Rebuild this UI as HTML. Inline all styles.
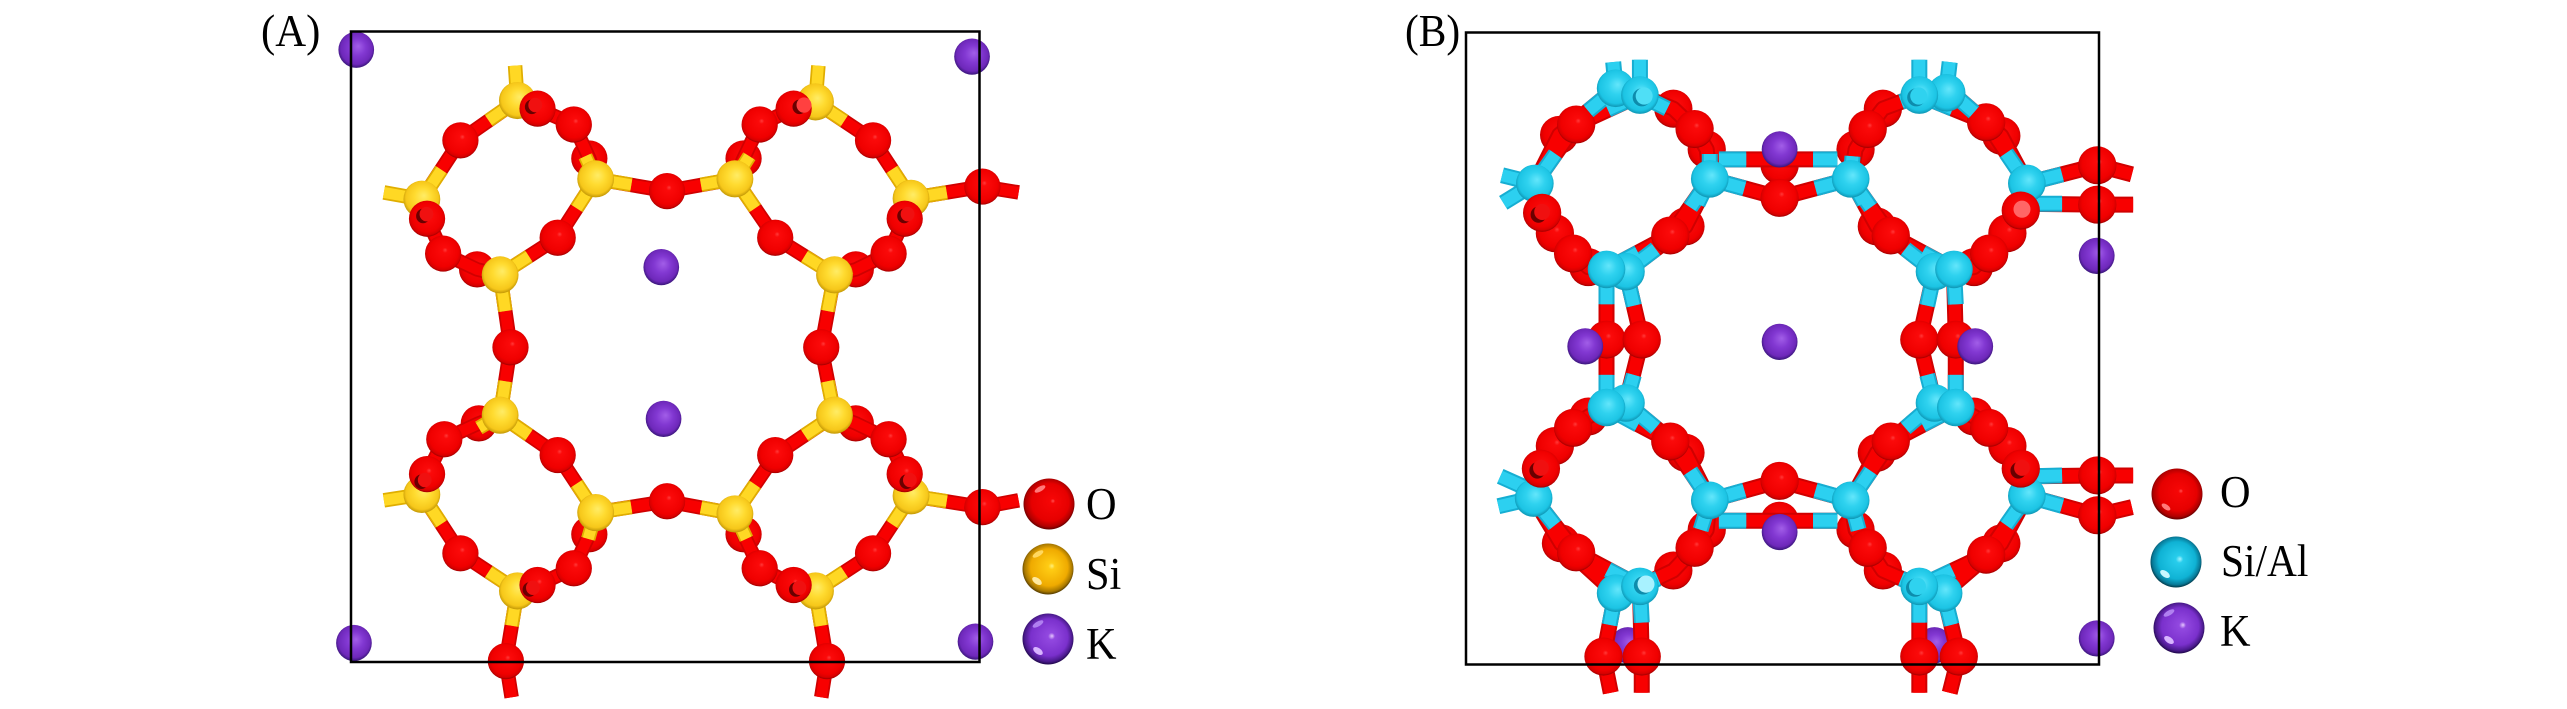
<!DOCTYPE html>
<html><head><meta charset="utf-8"><style>
html,body{margin:0;padding:0;background:#fff}
svg{display:block}
text{font-family:"Liberation Serif","Times New Roman",serif;fill:#000}
.b{fill:none;vector-effect:non-scaling-stroke;stroke-linejoin:round}
</style></head><body>
<svg xmlns="http://www.w3.org/2000/svg" width="2567" height="709" viewBox="0 0 2567 709">
<defs>
<radialGradient id="go" cx=".5" cy=".47" r=".52" fx=".56" fy=".4"><stop offset="0" stop-color="#ff3a3a"/><stop offset=".14" stop-color="#fb0a0a"/><stop offset=".78" stop-color="#f00000"/><stop offset=".93" stop-color="#d80000"/><stop offset="1" stop-color="#a80000"/></radialGradient>
<radialGradient id="gy" cx=".5" cy=".47" r=".52" fx=".56" fy=".4"><stop offset="0" stop-color="#ffec66"/><stop offset=".45" stop-color="#ffdb30"/><stop offset=".85" stop-color="#f6c71a"/><stop offset="1" stop-color="#c79c08"/></radialGradient>
<radialGradient id="gc" cx=".5" cy=".47" r=".52" fx=".56" fy=".4"><stop offset="0" stop-color="#64e6fb"/><stop offset=".45" stop-color="#2fd2ef"/><stop offset=".85" stop-color="#1cc4e4"/><stop offset="1" stop-color="#109ab8"/></radialGradient>
<radialGradient id="gk" cx=".5" cy=".47" r=".52" fx=".56" fy=".4"><stop offset="0" stop-color="#a25ee8"/><stop offset=".45" stop-color="#8238d2"/><stop offset=".85" stop-color="#6e28ba"/><stop offset="1" stop-color="#3e1880"/></radialGradient>
<radialGradient id="lo" cx=".5" cy=".48" r=".52" fx=".58" fy=".44"><stop offset="0" stop-color="#ff5050"/><stop offset=".09" stop-color="#f60606"/><stop offset=".7" stop-color="#e60000"/><stop offset=".9" stop-color="#b00000"/><stop offset="1" stop-color="#600000"/></radialGradient>
<radialGradient id="ly" cx=".5" cy=".48" r=".52" fx=".58" fy=".44"><stop offset="0" stop-color="#fff07a"/><stop offset=".12" stop-color="#ffcc14"/><stop offset=".7" stop-color="#efaa00"/><stop offset=".9" stop-color="#a87800"/><stop offset="1" stop-color="#503800"/></radialGradient>
<radialGradient id="lc" cx=".5" cy=".48" r=".52" fx=".58" fy=".44"><stop offset="0" stop-color="#a6f4ff"/><stop offset=".14" stop-color="#28cdec"/><stop offset=".7" stop-color="#0fb2d4"/><stop offset=".9" stop-color="#087a98"/><stop offset="1" stop-color="#033848"/></radialGradient>
<radialGradient id="lk" cx=".5" cy=".48" r=".52" fx=".58" fy=".44"><stop offset="0" stop-color="#e6c8ff"/><stop offset=".13" stop-color="#9248e0"/><stop offset=".7" stop-color="#7a30cc"/><stop offset=".9" stop-color="#4a1a8c"/><stop offset="1" stop-color="#1e0848"/></radialGradient>
<ellipse id="oa" rx="31.5" ry="40" fill="url(#go)"/>
<ellipse id="ya" rx="32" ry="41" fill="url(#gy)"/>
<ellipse id="ka" rx="31" ry="40" fill="url(#gk)"/>
<ellipse id="ob" rx="31.5" ry="42" fill="url(#go)"/>
<ellipse id="cb" rx="31" ry="41.5" fill="url(#gc)"/>
<ellipse id="kb" rx="29.5" ry="40" fill="url(#gk)"/>
<path id="ra" class="b" d="M482 222L383 310L316 440M482 222L517 240L580 275L607 350L618 395M618 395L552 525L452 607M618 395L742 422L860 395M860 395L930 525L1033 607M860 395L875 350L903 275L962 240L1000 225M1000 225L1100 310L1166 438M1166 438L1290 412L1353 425M1166 438L1155 483L1127 560L1070 595L1033 607M1033 607L1010 767L1033 917M452 607L470 767L452 917M452 607L412 595L353 560L325 483L316 440M452 917L552 1005L618 1132M452 917L415 935L355 970L325 1047L316 1092M316 1092L383 1222L482 1305M482 1305L462 1460L472 1540M482 1305L517 1292L580 1255L607 1180L618 1132M618 1132L742 1107L860 1135M860 1135L930 1005L1033 917M1033 917L1070 935L1127 970L1155 1047L1166 1095M1166 1095L1290 1120L1353 1105M1166 1095L1100 1222L1000 1305M1000 1305L962 1292L903 1255L875 1180L860 1135M1000 1305L1020 1460L1010 1540"/>
<path id="ya2" class="b" d="M482 222L432 266M482 222L478 145M482 222L500 231M316 440L350 375M316 440L250 425M618 395L600 345M618 395L585 460M618 395L680 408M452 607L502 566M452 607L461 687M452 607L432 601M860 395L801 408M860 395L895 460M860 395L885 345M1000 225L1050 267M1000 225L1005 145M1166 438L1133 374M1166 438L1228 425M1033 607L981 566M1033 607L1021 687M1033 607L1060 590M452 917L461 842M452 917L502 961M452 917L415 945M618 1132L585 1068M618 1132L680 1120M618 1132L605 1190M316 1092L250 1105M316 1092L350 1157M482 1305L432 1263M482 1305L472 1382M860 1135L801 1121M860 1135L895 1070M860 1135L880 1190M1033 917L1021 842M1033 917L981 961M1033 917L1060 930M1166 1095L1228 1107M1166 1095L1133 1158M1000 1305L1050 1263M1000 1305L1010 1382"/>
<path id="rb" class="b" d="M395 210L290 275L222 405M355 195L262 298L222 405M395 210L450 240L485 285L505 330L510 395M510 395L470 500L372 600M510 395L445 520L340 595M510 395L625 437L742 395M525 352L625 352L720 352M742 395L785 500L880 600M742 395L808 520L912 595M742 395L750 330L770 285L795 240L855 210M855 210L965 270L1032 405M900 195L990 300L1032 405M1032 405L1148 365L1205 385M1032 450L1148 452L1207 452M1032 405L1022 465L1000 515L970 560L945 590L912 595M222 405L234 470L255 515L285 560L310 590L340 595M340 595L340 750L340 900M372 600L398 750L372 890M912 595L915 750L915 900M880 600L855 750L880 890M340 900L445 975L510 1105M372 890L470 1000L510 1105M340 900L310 920L285 945L255 985L232 1035L220 1100M220 1100L290 1220L395 1295M220 1100L265 1200L355 1310M395 1295L450 1260L485 1210L505 1170L510 1105M510 1105L625 1062L742 1105M525 1150L625 1150L720 1150M742 1105L808 975L915 900M742 1105L785 1000L880 890M742 1105L750 1170L770 1210L795 1260L855 1295M855 1295L965 1225L1032 1095M895 1310L990 1200L1032 1095M915 900L945 920L970 945L1000 985L1022 1035L1032 1095M1032 1052L1148 1050L1207 1050M1032 1095L1148 1138L1205 1120M355 1310L335 1450L347 1530M395 1295L398 1450L398 1530M855 1295L855 1450L855 1530M895 1310L920 1450L905 1530"/>
<path id="cb2" class="b" d="M395 210L395 132M395 210L342 242M395 210L440 240M355 195L351 137M355 195L310 245M222 405L168 387M222 405L170 448M222 405L256 340M510 395L490 450M510 395L478 458M510 395L567 416M510 395L510 340M525 352L570 352M720 352L680 352M742 395L684 416M742 395L764 448M742 395L775 458M742 395L745 345M340 595L392 558M340 595L340 672M372 600L385 675M372 600L421 550M912 595L915 672M912 595L860 558M880 600L868 675M880 600L832 550M855 210L855 132M855 210L910 240M855 210L825 225M900 195L905 137M900 195L945 248M1032 405L998 338M1032 405L1090 385M1032 450L1090 450M340 900L340 828M340 900L392 938M372 890L385 828M372 890L421 945M915 900L915 828M915 900L860 938M880 890L868 828M880 890L832 945M220 1085L165 1052M220 1100L162 1118M220 1100L255 1160M510 1105L567 1083M510 1105L478 1040M510 1105L495 1170M525 1150L570 1150M720 1150L680 1150M742 1105L684 1083M742 1105L775 1040M742 1105L755 1170M395 1295L342 1258M395 1295L425 1278M395 1295L398 1375M355 1310L345 1380M855 1295L910 1260M855 1295L825 1278M855 1295L855 1375M895 1310L908 1380M1032 1095L1090 1117M1032 1095L998 1160M1032 1052L1090 1050"/>
</defs>

<!-- Panel A -->
<g transform="translate(240 0) scale(.5755 .4528)">
<use href="#oa" x="607" y="350"/><use href="#oa" x="875" y="350"/><use href="#oa" x="412" y="595"/><use href="#oa" x="1070" y="595"/><use href="#oa" x="415" y="935"/><use href="#oa" x="1070" y="935"/><use href="#oa" x="607" y="1180"/><use href="#oa" x="875" y="1180"/>
<use href="#ra" stroke="#d00000" stroke-width="14.5"/>
<use href="#ra" stroke="#f80000" stroke-width="11"/>
<use href="#oa" x="580" y="275"/><use href="#oa" x="383" y="310"/><use href="#oa" x="353" y="560"/><use href="#oa" x="552" y="525"/><use href="#oa" x="742" y="422"/><use href="#oa" x="903" y="275"/><use href="#oa" x="1100" y="310"/><use href="#oa" x="1127" y="560"/><use href="#oa" x="930" y="525"/><use href="#oa" x="470" y="767"/><use href="#oa" x="1010" y="767"/><use href="#oa" x="1290" y="412"/><use href="#oa" x="355" y="970"/><use href="#oa" x="552" y="1005"/><use href="#oa" x="580" y="1255"/><use href="#oa" x="383" y="1222"/><use href="#oa" x="742" y="1107"/><use href="#oa" x="1127" y="970"/><use href="#oa" x="930" y="1005"/><use href="#oa" x="1100" y="1222"/><use href="#oa" x="903" y="1255"/><use href="#oa" x="1290" y="1120"/><use href="#oa" x="462" y="1460"/><use href="#oa" x="1020" y="1460"/>
<use href="#ya2" stroke="#e0ae00" stroke-width="14.5"/>
<use href="#ya2" stroke="#ffd824" stroke-width="11"/>
<use href="#ya" x="482" y="222"/><use href="#ya" x="316" y="440"/><use href="#ya" x="618" y="395"/><use href="#ya" x="452" y="607"/><use href="#ya" x="860" y="395"/><use href="#ya" x="1000" y="225"/><use href="#ya" x="1166" y="438"/><use href="#ya" x="1033" y="607"/><use href="#ya" x="452" y="917"/><use href="#ya" x="618" y="1132"/><use href="#ya" x="316" y="1092"/><use href="#ya" x="482" y="1305"/><use href="#ya" x="860" y="1135"/><use href="#ya" x="1033" y="917"/><use href="#ya" x="1166" y="1095"/><use href="#ya" x="1000" y="1305"/>
<use href="#oa" x="517" y="240"/><use href="#oa" x="962" y="240"/><use href="#oa" x="325" y="483"/><use href="#oa" x="1155" y="483"/><use href="#oa" x="325" y="1047"/><use href="#oa" x="1155" y="1047"/><use href="#oa" x="517" y="1292"/><use href="#oa" x="962" y="1292"/>
<g fill="#6a0000"><ellipse cx="507" cy="236" rx="12" ry="16"/><ellipse cx="972" cy="236" rx="12" ry="16"/><ellipse cx="318" cy="477" rx="12" ry="16"/><ellipse cx="1154" cy="477" rx="12" ry="16"/><ellipse cx="315" cy="1064" rx="12" ry="16"/><ellipse cx="1158" cy="1064" rx="12" ry="16"/><ellipse cx="503" cy="1302" rx="12" ry="16"/><ellipse cx="966" cy="1302" rx="12" ry="16"/></g>
<g fill="#f01010"><ellipse cx="513" cy="232" rx="12" ry="16"/><ellipse cx="980" cy="232" rx="13" ry="17" fill="#ff4040"/><ellipse cx="324" cy="473" rx="12" ry="16"/><ellipse cx="1160" cy="473" rx="12" ry="16"/><ellipse cx="321" cy="1060" rx="12" ry="16"/><ellipse cx="1164" cy="1060" rx="12" ry="16"/><ellipse cx="509" cy="1298" rx="12" ry="16"/><ellipse cx="972" cy="1298" rx="12" ry="16"/></g>
<use href="#ka" x="202" y="110"/><use href="#ka" x="1272" y="125"/><use href="#ka" x="198" y="1420"/><use href="#ka" x="1278" y="1417"/><use href="#ka" x="732" y="590"/><use href="#ka" x="736" y="925"/>
</g>
<rect x="351" y="31.5" width="628.5" height="630.5" fill="none" stroke="#000" stroke-width="2.5"/>

<!-- Panel B -->
<g transform="translate(1400 0) scale(.6074 .4528)">
<use href="#kb" x="375" y="1425"/><use href="#kb" x="880" y="1425"/>
<use href="#ob" x="505" y="330"/><use href="#ob" x="750" y="330"/><use href="#ob" x="310" y="590"/><use href="#ob" x="945" y="590"/><use href="#ob" x="310" y="920"/><use href="#ob" x="945" y="920"/><use href="#ob" x="505" y="1170"/><use href="#ob" x="750" y="1170"/><use href="#ob" x="625" y="365"/><use href="#ob" x="625" y="1150"/><use href="#ob" x="262" y="298"/><use href="#ob" x="990" y="300"/><use href="#ob" x="265" y="1200"/><use href="#ob" x="990" y="1200"/><use href="#ob" x="470" y="500"/><use href="#ob" x="785" y="500"/><use href="#ob" x="470" y="1000"/><use href="#ob" x="785" y="1000"/><use href="#ob" x="450" y="240"/><use href="#ob" x="795" y="240"/><use href="#ob" x="450" y="1260"/><use href="#ob" x="795" y="1260"/>
<use href="#rb" stroke="#d00000" stroke-width="16"/>
<use href="#rb" stroke="#f80000" stroke-width="12"/>
<use href="#ob" x="290" y="275"/><use href="#ob" x="485" y="285"/><use href="#ob" x="255" y="515"/><use href="#ob" x="285" y="560"/><use href="#ob" x="445" y="520"/><use href="#ob" x="625" y="437"/><use href="#ob" x="770" y="285"/><use href="#ob" x="965" y="270"/><use href="#ob" x="1000" y="515"/><use href="#ob" x="970" y="560"/><use href="#ob" x="808" y="520"/><use href="#ob" x="1148" y="365"/><use href="#ob" x="1148" y="452"/><use href="#ob" x="340" y="750"/><use href="#ob" x="398" y="750"/><use href="#ob" x="855" y="750"/><use href="#ob" x="915" y="750"/><use href="#ob" x="290" y="1220"/><use href="#ob" x="255" y="985"/><use href="#ob" x="285" y="945"/><use href="#ob" x="445" y="975"/><use href="#ob" x="485" y="1210"/><use href="#ob" x="625" y="1062"/><use href="#ob" x="808" y="975"/><use href="#ob" x="1000" y="985"/><use href="#ob" x="970" y="945"/><use href="#ob" x="770" y="1210"/><use href="#ob" x="965" y="1225"/><use href="#ob" x="1148" y="1050"/><use href="#ob" x="1148" y="1138"/><use href="#ob" x="335" y="1450"/><use href="#ob" x="398" y="1450"/><use href="#ob" x="855" y="1450"/><use href="#ob" x="920" y="1450"/>
<use href="#cb2" stroke="#16aed2" stroke-width="16"/>
<use href="#cb2" stroke="#2cd0f0" stroke-width="12"/>
<use href="#cb" x="355" y="195"/><use href="#cb" x="395" y="210"/><use href="#cb" x="222" y="405"/><use href="#cb" x="510" y="395"/><use href="#cb" x="742" y="395"/><use href="#cb" x="372" y="600"/><use href="#cb" x="340" y="595"/><use href="#cb" x="880" y="600"/><use href="#cb" x="912" y="595"/><use href="#cb" x="900" y="205"/><use href="#cb" x="855" y="210"/><use href="#cb" x="1032" y="405"/><use href="#cb" x="372" y="890"/><use href="#cb" x="340" y="900"/><use href="#cb" x="880" y="890"/><use href="#cb" x="915" y="900"/><use href="#cb" x="220" y="1100"/><use href="#cb" x="510" y="1105"/><use href="#cb" x="742" y="1105"/><use href="#cb" x="355" y="1310"/><use href="#cb" x="395" y="1295"/><use href="#cb" x="895" y="1310"/><use href="#cb" x="855" y="1295"/><use href="#cb" x="1032" y="1095"/>
<ellipse cx="398" cy="215" rx="15" ry="20" fill="#0e8cac"/><ellipse cx="402" cy="212" rx="14" ry="19" fill="#4fdff6"/><ellipse cx="850" cy="215" rx="15" ry="20" fill="#0e8cac"/><ellipse cx="854" cy="212" rx="14" ry="19" fill="#2fd2ef"/><ellipse cx="400" cy="1293" rx="15" ry="20" fill="#0e8cac"/><ellipse cx="405" cy="1290" rx="14" ry="19" fill="#a8f2ff"/><ellipse cx="848" cy="1298" rx="15" ry="20" fill="#0e8cac"/><ellipse cx="852" cy="1295" rx="14" ry="19" fill="#2fd2ef"/>
<use href="#ob" x="234" y="470"/><use href="#ob" x="1022" y="465"/><use href="#ob" x="232" y="1035"/><use href="#ob" x="1022" y="1035"/>
<g fill="#6a0000"><ellipse cx="228" cy="474" rx="13" ry="18"/><ellipse cx="226" cy="1039" rx="13" ry="18"/><ellipse cx="1018" cy="1039" rx="13" ry="18"/></g>
<g fill="#f01010"><ellipse cx="234" cy="468" rx="13" ry="18"/><ellipse cx="1024" cy="462" rx="14" ry="19" fill="#f66"/><ellipse cx="232" cy="1033" rx="13" ry="18"/><ellipse cx="1024" cy="1033" rx="13" ry="18"/></g>
<use href="#kb" x="625" y="330"/><use href="#kb" x="625" y="755"/><use href="#kb" x="1147" y="565"/><use href="#kb" x="305" y="765"/><use href="#kb" x="947" y="765"/><use href="#kb" x="625" y="1175"/><use href="#kb" x="1147" y="1410"/>
</g>
<rect x="1466" y="32.5" width="633" height="632" fill="none" stroke="#000" stroke-width="2.5"/>

<!-- Legends -->
<circle cx="1049" cy="504" r="25.5" fill="url(#lo)"/><ellipse cx="1040" cy="489" rx="6" ry="2.5" fill="#ff7a7a" transform="rotate(-30 1040 489)"/>
<circle cx="1048" cy="569" r="25.5" fill="url(#ly)"/><ellipse cx="1037" cy="581" rx="5.5" ry="3" fill="#ffe9a0" transform="rotate(35 1037 581)"/><ellipse cx="1038" cy="554" rx="6" ry="2.5" fill="#ffd860" transform="rotate(-30 1038 554)"/>
<circle cx="1048" cy="639" r="25.5" fill="url(#lk)"/><ellipse cx="1038" cy="651" rx="5.5" ry="3" fill="#d8b4ff" transform="rotate(35 1038 651)"/><ellipse cx="1038" cy="624" rx="6" ry="2.5" fill="#b080f0" transform="rotate(-30 1038 624)"/>
<circle cx="2177" cy="494" r="25.5" fill="url(#lo)"/><ellipse cx="2166" cy="507" rx="5" ry="2.5" fill="#ff7a7a" transform="rotate(35 2166 507)"/>
<circle cx="2176" cy="562" r="25.5" fill="url(#lc)"/><ellipse cx="2165" cy="574" rx="5.5" ry="3" fill="#c8f8ff" transform="rotate(35 2165 574)"/>
<circle cx="2179" cy="628" r="25.5" fill="url(#lk)"/><ellipse cx="2169" cy="640" rx="5.5" ry="3" fill="#d8b4ff" transform="rotate(35 2169 640)"/><ellipse cx="2169" cy="613" rx="6" ry="2.5" fill="#b080f0" transform="rotate(-30 2169 613)"/>

<text transform="translate(261 46) scale(.93 1)" font-size="46">(A)</text>
<text transform="translate(1405 46) scale(.9 1)" font-size="46">(B)</text>
<text transform="translate(1086 519) scale(.92 1)" font-size="46">O</text>
<text transform="translate(1086 589) scale(.92 1)" font-size="46">Si</text>
<text transform="translate(1086 659) scale(.92 1)" font-size="46">K</text>
<text transform="translate(2220 507) scale(.92 1)" font-size="46">O</text>
<text transform="translate(2221 576) scale(.9 1)" font-size="46">Si/Al</text>
<text transform="translate(2220 646) scale(.92 1)" font-size="46">K</text>
</svg>
</body></html>
